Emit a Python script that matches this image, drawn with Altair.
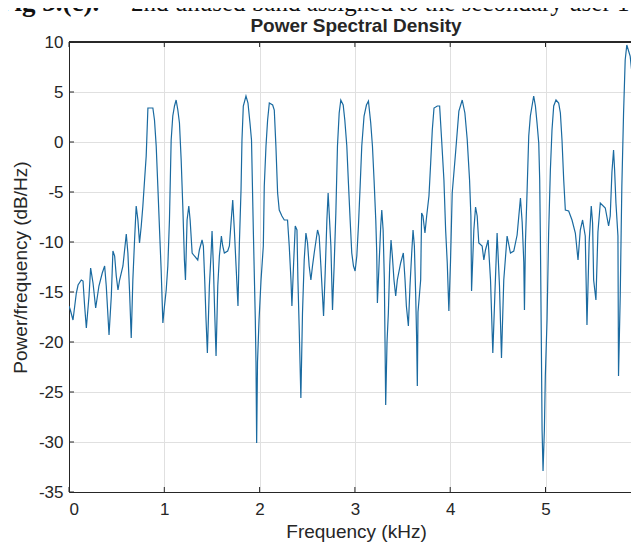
import altair as alt
import pandas as pd

caption_bold = ["Fig 3.(c)."]
caption_rest = ["2nd unused band assigned to the secondary user 1"]
chart_title = ["Power Spectral Density"]
x_title = "Frequency (kHz)"
y_title = "Power/frequency (dB/Hz)"

x_ticks = [0, 1, 2, 3, 4, 5]
y_ticks = [-35, -30, -25, -20, -15, -10, -5, 0, 5, 10]

freq_khz = [
    0.000, 0.014, 0.042, 0.077, 0.095, 0.129, 0.147, 0.164, 0.182, 0.210,
    0.227, 0.252, 0.280, 0.314, 0.349, 0.374, 0.391, 0.420, 0.444, 0.461,
    0.479, 0.496, 0.514, 0.531, 0.566, 0.601, 0.618, 0.636, 0.653, 0.670,
    0.688, 0.705, 0.723, 0.740, 0.758, 0.775, 0.793, 0.810, 0.828, 0.880,
    0.897, 0.915, 0.932, 0.950, 0.967, 0.985, 1.002, 1.020, 1.037, 1.054,
    1.072, 1.089, 1.107, 1.124, 1.142, 1.159, 1.177, 1.194, 1.211, 1.222,
    1.239, 1.257, 1.271, 1.292, 1.316, 1.351, 1.368, 1.396, 1.410, 1.424,
    1.438, 1.452, 1.473, 1.491, 1.501, 1.515, 1.529, 1.543, 1.561, 1.578,
    1.599, 1.613, 1.630, 1.665, 1.683, 1.700, 1.718, 1.735, 1.753, 1.773,
    1.787, 1.805, 1.815, 1.829, 1.857, 1.878, 1.899, 1.915, 1.934, 1.955,
    1.962, 1.969, 1.978, 1.994, 2.015, 2.039, 2.049, 2.067, 2.084, 2.102,
    2.137, 2.154, 2.171, 2.189, 2.206, 2.234, 2.259, 2.293, 2.311, 2.329,
    2.339, 2.357, 2.374, 2.392, 2.402, 2.416, 2.433, 2.450, 2.468, 2.486,
    2.503, 2.520, 2.538, 2.555, 2.573, 2.608, 2.625, 2.643, 2.660, 2.671,
    2.688, 2.706, 2.719, 2.730, 2.748, 2.765, 2.782, 2.800, 2.817, 2.835,
    2.852, 2.877, 2.894, 2.915, 2.932, 2.950, 2.967, 2.985, 3.002, 3.020,
    3.037, 3.055, 3.072, 3.096, 3.121, 3.142, 3.166, 3.184, 3.201, 3.219,
    3.229, 3.236, 3.254, 3.271, 3.282, 3.296, 3.309, 3.316, 3.323, 3.337,
    3.351, 3.365, 3.379, 3.393, 3.410, 3.428, 3.445, 3.480, 3.508, 3.526,
    3.540, 3.561, 3.578, 3.596, 3.610, 3.624, 3.638, 3.648, 3.655, 3.662,
    3.690, 3.700, 3.714, 3.735, 3.753, 3.777, 3.795, 3.812, 3.830, 3.865,
    3.889, 3.910, 3.934, 3.952, 3.969, 3.986, 4.003, 4.021, 4.056, 4.091,
    4.126, 4.154, 4.178, 4.203, 4.217, 4.224, 4.248, 4.266, 4.283, 4.300,
    4.335, 4.353, 4.370, 4.398, 4.423, 4.447, 4.468, 4.492, 4.517, 4.538,
    4.562, 4.597, 4.632, 4.667, 4.702, 4.737, 4.755, 4.772, 4.779, 4.789,
    4.807, 4.824, 4.841, 4.876, 4.894, 4.911, 4.929, 4.939, 4.946, 4.955,
    4.964, 4.974, 4.988, 4.998, 5.016, 5.033, 5.051, 5.068, 5.086, 5.110,
    5.138, 5.156, 5.173, 5.191, 5.208, 5.243, 5.278, 5.313, 5.341, 5.365,
    5.389, 5.417, 5.435, 5.458, 5.480, 5.494, 5.505, 5.529, 5.550, 5.575,
    5.627, 5.662, 5.679, 5.697, 5.714, 5.725, 5.739, 5.760, 5.766, 5.784,
    5.794, 5.801, 5.819, 5.836, 5.853, 5.888, 5.906, 5.923, 5.941, 5.951,
    5.965, 5.975,
]

psd_db = [
    -16.4, -16.8, -17.8, -15.1, -14.3, -13.8, -13.9, -16.4, -18.6, -15.4,
    -12.6, -14.1, -16.6, -14.4, -13.1, -12.4, -14.4, -19.3, -15.4, -10.9,
    -11.4, -13.4, -14.8, -13.8, -12.4, -9.2, -11.1, -15.1, -19.6, -13.8,
    -9.8, -6.4, -7.8, -10.1, -8.4, -6.4, -3.8, -1.4, 3.4, 3.4,
    2.2, -0.4, -4.4, -8.8, -12.8, -18.1, -16.4, -14.8, -12.4, -7.8,
    0.2, 2.6, 3.6, 4.2, 3.2, 1.9, -1.8, -6.4, -11.8, -13.8,
    -7.8, -6.4, -7.8, -11.1, -11.4, -11.8, -10.8, -9.8, -10.4, -13.8,
    -17.8, -21.1, -14.4, -11.1, -8.9, -12.4, -17.1, -21.4, -14.4, -11.4,
    -9.4, -10.4, -11.1, -10.9, -10.4, -8.1, -5.8, -8.8, -12.4, -16.4,
    -10.4, -4.8, 0.2, 3.6, 4.6, 3.9, 1.9, 0.2, -8.8, -17.8,
    -22.0, -30.1, -22.0, -17.8, -13.8, -10.4, -4.4, -0.4, 2.2, 3.9,
    3.7, 3.2, -0.4, -5.1, -6.8, -7.4, -7.8, -7.8, -10.4, -13.8,
    -16.4, -12.1, -8.4, -8.8, -13.8, -18.8, -25.6, -17.1, -11.8, -9.1,
    -10.1, -12.4, -13.8, -12.4, -11.1, -8.8, -9.4, -12.4, -15.4, -17.4,
    -13.1, -7.8, -5.1, -7.1, -10.4, -16.8, -12.4, -7.1, -0.4, 2.9,
    4.2, 3.7, 2.2, -0.4, -4.1, -7.8, -11.1, -12.4, -12.9, -11.4,
    -8.4, -4.4, -0.4, 2.6, 3.7, 4.1, 1.9, -0.4, -3.8, -7.8,
    -11.1, -16.1, -12.1, -8.4, -6.8, -8.8, -13.8, -20.0, -26.3, -20.0,
    -17.1, -12.4, -9.8, -11.4, -13.8, -15.4, -13.8, -12.1, -11.1, -13.8,
    -16.4, -18.4, -14.4, -11.1, -8.8, -10.4, -15.4, -19.8, -24.4, -17.0,
    -13.8, -7.1, -7.4, -9.1, -7.4, -5.4, -2.1, 1.2, 3.4, 3.6,
    3.6, 0.2, -3.8, -8.8, -12.1, -16.9, -12.0, -5.1, -1.1, 3.1,
    4.2, 2.9, 0.3, -3.8, -7.4, -14.9, -8.8, -6.5, -7.4, -10.1,
    -10.4, -11.8, -10.8, -9.8, -13.8, -21.1, -15.4, -9.1, -14.4, -21.6,
    -13.8, -9.4, -11.1, -10.9, -9.3, -5.6, -8.0, -12.0, -16.8, -10.1,
    -4.8, 0.6, 2.6, 4.6, 3.6, 1.9, -0.1, -3.8, -9.4, -18.8,
    -28.8, -32.9, -28.8, -23.4, -17.8, -9.0, -2.8, 1.2, 3.6, 4.2,
    3.9, 2.9, 0.2, -3.8, -6.8, -6.9, -7.8, -9.1, -11.8, -8.8,
    -7.8, -9.4, -18.3, -10.0, -6.4, -8.1, -13.8, -15.8, -9.0, -6.1,
    -6.6, -8.4, -7.4, -3.0, -0.8, -2.8, -6.1, -9.4, -23.4, -15.4,
    -8.8, -4.4, 2.9, 8.2, 9.7, 8.6, 7.0, 3.0, -2.1, -5.4,
    -10.4, -16.0,
]

W, H = 562, 450
TEXT = "#262626"
GRID = "#e0e0e0"
LINE = "#1a6aa0"
FONT = "Liberation Sans"

df = pd.DataFrame({"f": freq_khz, "p": psd_db})
xt = pd.DataFrame({"f": x_ticks})
yt = pd.DataFrame({"p": y_ticks})

xs = alt.Scale(domain=[0, 5.897], nice=False, zero=False)
ys = alt.Scale(domain=[-35, 10], nice=False, zero=False)

x_axis = alt.Axis(values=x_ticks, title=x_title, grid=True, ticks=False, tickSize=0,
                  labelPadding=9, labelFontSize=17, titleFontSize=19,
                  titleX=287, titleY=39, titleBaseline="middle",
                  labelExpr="'' + datum.value")
y_axis = alt.Axis(values=y_ticks, title=y_title, grid=True, ticks=False, tickSize=0,
                  labelPadding=6, labelFontSize=17, titleFontSize=19,
                  titleX=-49, titleY=H / 2, titleBaseline="middle", titleAngle=270,
                  titleAlign="center", labelExpr="'' + datum.value")

line = alt.Chart(df).mark_line(color=LINE, strokeWidth=1.2, clip=True).encode(
    x=alt.X("f:Q", scale=xs, axis=x_axis),
    y=alt.Y("p:Q", scale=ys, axis=y_axis),
)

tick_bottom = alt.Chart(xt).mark_rule(color=TEXT, strokeWidth=1).encode(
    x=alt.X("f:Q", scale=xs, axis=x_axis), y=alt.value(H), y2=alt.value(H - 5))
tick_top = alt.Chart(xt).mark_rule(color=TEXT, strokeWidth=1).encode(
    x=alt.X("f:Q", scale=xs, axis=x_axis), y=alt.value(0), y2=alt.value(5))
tick_left = alt.Chart(yt).mark_rule(color=TEXT, strokeWidth=1).encode(
    y=alt.Y("p:Q", scale=ys, axis=y_axis), x=alt.value(0), x2=alt.value(5))
top_frame = alt.Chart(xt).mark_rule(color=TEXT, strokeWidth=1).encode(
    x=alt.value(0), x2=alt.value(W), y=alt.value(0))

title_mark = alt.Chart(pd.DataFrame({"c": chart_title})).mark_text(
    font=FONT, fontSize=19, fontWeight="bold", color=TEXT,
    align="center", baseline="alphabetic"
).encode(text="c:N", x=alt.value(287), y=alt.value(-10))

cap1 = alt.Chart(pd.DataFrame({"c": caption_bold})).mark_text(
    font="Liberation Serif", fontSize=27, fontWeight="bold", color="#111111",
    align="left", baseline="alphabetic"
).encode(text="c:N", x=alt.value(-71), y=alt.value(-31))
cap2 = alt.Chart(pd.DataFrame({"c": caption_rest})).mark_text(
    font="Liberation Serif", fontSize=25, color="#111111",
    align="left", baseline="alphabetic"
).encode(text="c:N", x=alt.value(62), y=alt.value(-31))

chart = alt.layer(line, tick_bottom, tick_top, tick_left, top_frame, title_mark, cap1, cap2).properties(
    width=W, height=H,
    padding={"left": 61, "top": 34, "right": 0, "bottom": 52},
    autosize=alt.AutoSizeParams(type="none"),
).configure_view(stroke=None).configure_axis(
    domainColor=TEXT, domainWidth=1, gridColor=GRID, gridWidth=1,
    labelColor=TEXT, titleColor=TEXT, labelFont=FONT, titleFont=FONT,
    titleFontWeight="normal",
)

chart.save("out.html", embed_options={"renderer": "svg", "actions": False})
